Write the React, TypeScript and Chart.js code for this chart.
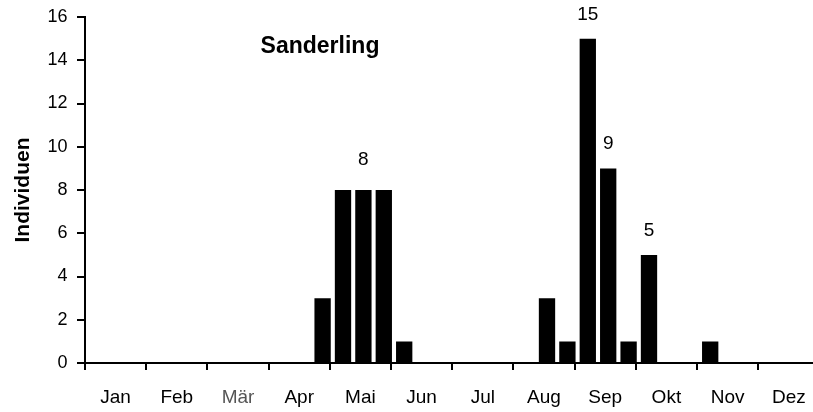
import React, { useEffect, useRef } from "react";
import { Chart, registerables } from "chart.js";

Chart.register(...registerables);

const months = ["Jan", "Feb", "Mär", "Apr", "Mai", "Jun", "Jul", "Aug", "Sep", "Okt", "Nov", "Dez"];
// counts per ten-day period (3 per month)
const values = [
  0, 0, 0, // Jan
  0, 0, 0, // Feb
  0, 0, 0, // Mär
  0, 0, 3, // Apr
  8, 8, 8, // Mai
  1, 0, 0, // Jun
  0, 0, 0, // Jul
  0, 3, 1, // Aug
  15, 9, 1, // Sep
  5, 0, 0, // Okt
  1, 0, 0, // Nov
  0, 0, 0, // Dez
];
const labelledBars = [13, 24, 25, 27];
const yTicks = [0, 2, 4, 6, 8, 10, 12, 14, 16];
const chartTitle = "Sanderling";
const yTitle = "Individuen";

// styling
const FONT = "'Liberation Sans', Arial, sans-serif";
const labelGap = [30, 24, 25, 24];
const barShift = 0.147; // bars sit slightly right of the month grid

export default function App() {
  const ref = useRef<HTMLCanvasElement | null>(null);

  useEffect(() => {
    const canvas = ref.current;
    if (!canvas) return;
    const xMin = -0.5 - barShift;
    const xMax = values.length - 0.5 - barShift;
    const tickVals: number[] = [];
    for (let k = 0; k <= months.length; k++) {
      tickVals.push(3 * k + xMin);
      if (k < months.length) tickVals.push(3 * k + 1.5 + xMin);
    }

    const labelPlugin = {
      id: "barLabels",
      afterDatasetsDraw(chart: any) {
        const meta = chart.getDatasetMeta(0);
        const ctx = chart.ctx;
        ctx.save();
        ctx.fillStyle = "#000";
        ctx.font = "19px " + FONT;
        ctx.textAlign = "center";
        ctx.textBaseline = "middle";
        labelledBars.forEach((i, j) => {
          const el = meta.data[i];
          ctx.fillText(String(values[i]), el.x, el.y - labelGap[j]);
        });
        ctx.font = "bold 23px " + FONT;
        ctx.fillText(chartTitle, chart.chartArea.left + 235, chart.chartArea.top + 30);
        ctx.restore();
      },
    };

    const chart = new Chart(canvas, {
      type: "bar",
      data: {
        datasets: [
          {
            data: values.map((v, i) => ({ x: i, y: v })),
            backgroundColor: "#000",
            borderWidth: 0,
            barPercentage: 0.8,
            categoryPercentage: 1,
          },
        ],
      },
      options: {
        animation: false,
        responsive: false,
        layout: { padding: { top: 17, right: 2.6, left: 0, bottom: 0 } },
        plugins: { legend: { display: false }, tooltip: { enabled: false } },
        scales: {
          x: {
            type: "linear",
            min: xMin,
            max: xMax,
            offset: false,
            afterBuildTicks: (s: any) => {
              s.ticks = tickVals.map((v) => ({ value: v }));
            },
            grid: {
              offset: false,
              drawOnChartArea: false,
              drawTicks: true,
              tickLength: 7,
              lineWidth: 2,
              color: (c: any) => (c.index === undefined || c.index % 2 === 0 ? "#000" : "rgba(0,0,0,0)"),
            },
            border: { display: true, color: "#000", width: 2 },
            ticks: {
              autoSkip: false,
              maxRotation: 0,
              minRotation: 0,
              padding: 16.5,
              color: (c: any) => (c.index === 5 ? "#555" : "#000"),
              font: { family: FONT, size: 19 },
              callback: (_v: any, i: number) => (i % 2 === 1 ? months[(i - 1) / 2] : ""),
            },
            afterFit: (s: any) => {
              s.height = 49;
              s.paddingLeft = 0;
              s.paddingRight = 0;
            },
          },
          y: {
            min: 0,
            max: 16,
            afterBuildTicks: (s: any) => {
              s.ticks = yTicks.map((v) => ({ value: v }));
            },
            grid: {
              drawOnChartArea: false,
              drawTicks: true,
              tickLength: 8,
              lineWidth: 2,
              color: "#000",
            },
            border: { display: true, color: "#000", width: 2 },
            ticks: {
              padding: 9.5,
              color: "#000",
              font: { family: FONT, size: 18 },
            },
            title: {
              display: true,
              text: yTitle,
              color: "#000",
              font: { family: FONT, size: 21, weight: "bold" },
              padding: { top: 11, bottom: 0 },
            },
            afterFit: (s: any) => {
              s.width = 85;
              s.paddingTop = 0;
              s.paddingBottom = 0;
            },
          },
        },
      },
      plugins: [labelPlugin],
    });
    return () => chart.destroy();
  }, []);

  return (
    <div style={{ position: "fixed", left: 0, top: 0, width: 813, height: 412, overflow: "hidden", background: "#fff" }}>
      <canvas ref={ref} width={822} height={412} style={{ width: 822, height: 412, display: "block" }} />
    </div>
  );
}
